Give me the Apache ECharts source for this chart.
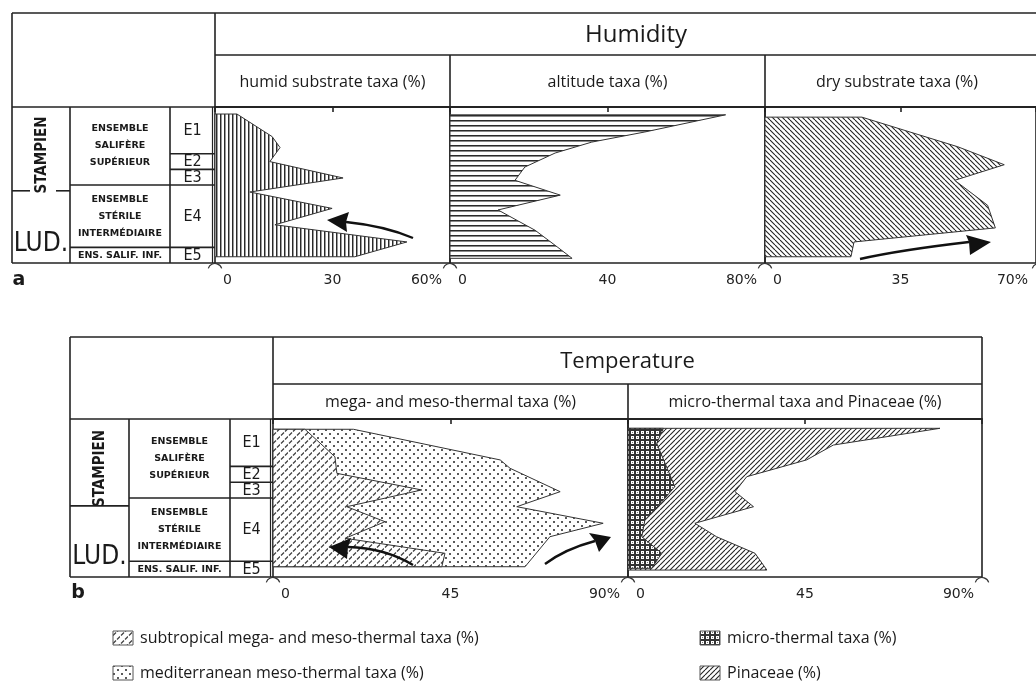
<!DOCTYPE html>
<html><head><meta charset="utf-8">
<script src="https://cdn.jsdelivr.net/npm/echarts@6/dist/echarts.min.js"></script>
<style>html,body{margin:0;padding:0;background:#fff}#c{width:1036px;height:689px}</style>
</head><body><div id="c"></div>
<script>
// ---------- DATA (depth = relative position in the section: 0 = top of E1, 100 = base of E5) ----------
const humidDepth = [4.5, 19, 26, 35, 45.5, 54.5, 65, 75.5, 86.5, 96];
const humidVal   = [5.6, 14.6, 16.6, 14.0, 32.7, 8.9, 29.9, 15.3, 49.0, 35.7];
const altitudeDepth = [5, 16, 22.5, 29.5, 38.5, 47, 56.5, 66, 79, 90, 97];
const altitudeVal   = [70, 49.5, 36, 26.7, 19, 16.5, 28, 12.2, 21.6, 27.4, 31];
const dryDepth = [6.5, 25.5, 37, 47, 63, 77.5, 86.5, 96];
const dryVal   = [25, 49.8, 61.8, 49, 57.5, 59.5, 23, 22.2];
const subtropDepth = [6.5, 23.9, 34.4, 44.9, 55.5, 65, 75.5, 85, 93.5];
const subtropVal   = [8.1, 15.7, 16.2, 37.7, 18.7, 28.4, 18.3, 43.6, 42.8];
const megaMesoDepth = [6.5, 25.9, 31.2, 46, 55.5, 66, 74.5, 93.5];
const megaMesoTotal = [20.4, 57.6, 60.1, 72.8, 61.8, 83.7, 70.2, 63.9];
const microDepth = [5.9, 15.4, 42.8, 51.3, 63.9, 74.5, 85, 94.5];
const microVal   = [9.0, 7.3, 11.9, 9.0, 4.3, 3.5, 8.6, 6.0];
const pinaceaeDepth = [5.9, 16.5, 25.9, 36.5, 46, 55.5, 66, 74.5, 85, 95.6];
const microPinTotal = [79.3, 52.2, 45.4, 30.2, 27.2, 31.9, 17.0, 22.5, 32.3, 35.3];

const humidTicks = [0, 30, 60];
const altitudeTicks = [0, 40, 80];
const dryTicks = [0, 35, 70];
const megaTicks = [0, 45, 90];
const microTicks = [0, 45, 90];

const unitNames = ['E1', 'E2', 'E3', 'E4', 'E5'];
const unitBounds = [0, 30, 40, 50, 90, 100];
const ensembleBounds = [0, 50, 90, 100];
const ensembleNames = [['ENSEMBLE', 'SALIFÈRE', 'SUPÉRIEUR'], ['ENSEMBLE', 'STÉRILE', 'INTERMÉDIAIRE'], ['ENS. SALIF. INF.']];
const stageNames = ['STAMPIEN', 'LUD.'];
const stageBoundary = 55;

const figTitles = ['Humidity', 'Temperature'];
const topPanelTitles = ['humid substrate taxa (%)', 'altitude taxa (%)', 'dry substrate taxa (%)'];
const bottomPanelTitles = ['mega- and meso-thermal taxa (%)', 'micro-thermal taxa and Pinaceae (%)'];
const legendLabels = ['subtropical mega- and meso-thermal taxa (%)', 'mediterranean meso-thermal taxa (%)', 'micro-thermal taxa (%)', 'Pinaceae (%)'];
const figLetters = ['a', 'b'];

// ---------- PATTERNS ----------
function pat(w, h, draw) {
  const c = document.createElement('canvas'); c.width = w; c.height = h;
  const g = c.getContext('2d'); g.fillStyle = '#fff'; g.fillRect(0, 0, w, h); draw(g, w, h);
  return { image: c, repeat: 'repeat' };
}
const P = {
  vert: pat(4, 4, g => { g.fillStyle = '#2a2a2a'; g.fillRect(0, 0, 1, 4); g.fillStyle = '#9a9a9a'; g.fillRect(1, 0, 1, 4); }),
  horiz: pat(4, 5, g => { g.fillStyle = '#2a2a2a'; g.fillRect(0, 0, 4, 1); g.fillStyle = '#8a8a8a'; g.fillRect(0, 1, 4, 1); }),
  back: pat(5, 5, (g, w, h) => { g.strokeStyle = '#222'; g.lineWidth = 1.1; for (const k of [-w, 0, w]) { g.beginPath(); g.moveTo(k, 0); g.lineTo(k + w, h); g.stroke(); } }),
  fwd: pat(5, 5, (g, w, h) => { g.strokeStyle = '#222'; g.lineWidth = 1.1; for (const k of [-w, 0, w]) { g.beginPath(); g.moveTo(k, h); g.lineTo(k + w, 0); g.stroke(); } }),
  dots: pat(8, 8, g => { g.fillStyle = '#5a5a5a'; g.fillRect(1, 1, 2, 2); g.fillRect(5, 5, 2, 2); }),
  dash: pat(8, 8, g => { g.strokeStyle = '#444'; g.lineWidth = 1.3; g.beginPath(); g.moveTo(1, 3.5); g.lineTo(4, 0.5); g.moveTo(5, 7.5); g.lineTo(8, 4.5); g.stroke(); }),
  cross: pat(5, 5, g => { g.fillStyle = '#333'; g.fillRect(0, 0, 5, 5); g.fillStyle = '#fff'; g.fillRect(1, 1, 3, 3); g.fillStyle = '#777'; g.fillRect(2, 2, 1, 1); })
};

// ---------- LAYOUT ----------
const FIG = [
  { left: 12, c1: 70, c2: 170, c3: 215, headTop: 13, titleDiv: 55, top: 107, bottom: 263, cols: [215, 450, 765, 1039], right: 1039, dashedStage: true },
  { left: 70, c1: 129, c2: 230, c3: 273, headTop: 337, titleDiv: 384, top: 419, bottom: 577, cols: [273, 628, 982], right: 982, dashedStage: false }
];
const panels = [
  { fig: 0, col: 0, ticks: humidTicks },
  { fig: 0, col: 1, ticks: altitudeTicks },
  { fig: 0, col: 2, ticks: dryTicks },
  { fig: 1, col: 0, ticks: megaTicks },
  { fig: 1, col: 1, ticks: microTicks }
];

const LINE = '#222';
const COND = "'DejaVu Sans Condensed', 'Liberation Sans Narrow', 'Liberation Sans', sans-serif";
const grids = [], xAxes = [], yAxes = [];
panels.forEach((p, i) => {
  const f = FIG[p.fig];
  grids.push({ left: f.cols[p.col], top: f.top, width: f.cols[p.col + 1] - f.cols[p.col], height: f.bottom - f.top,
    show: true, borderColor: LINE, borderWidth: 1.6, backgroundColor: 'transparent' });
  const max = p.ticks[p.ticks.length - 1];
  const lab = { fontFamily: 'DejaVu Sans', fontSize: 14, color: '#222' };
  xAxes.push({ type: 'value', gridIndex: i, min: 0, max: max, interval: p.ticks[1] - p.ticks[0],
    axisLine: { show: true, lineStyle: { color: LINE, width: 1.6 } },
    axisTick: { show: true, length: 5, lineStyle: { color: LINE, width: 1.6 } },
    splitLine: { show: false },
    axisLabel: { show: true, margin: 10, ...lab, alignMinLabel: 'left', alignMaxLabel: 'right',
      formatter: v => v === 0 ? '{l|0}' : (v === max ? '{r|' + v + '%}' : String(v)),
      rich: { l: { ...lab, padding: [0, 0, 0, 8] }, r: { ...lab, padding: [0, 8, 0, 0] } } } });
  yAxes.push({ type: 'value', gridIndex: i, min: 0, max: 100, inverse: true, show: false });
});

function profile(idx, vals, depths, fill, z) {
  return { type: 'custom', coordinateSystem: 'cartesian2d', xAxisIndex: idx, yAxisIndex: idx, z: z, silent: true,
    data: vals.map((v, i) => [v, depths[i]]),
    renderItem: (params, api) => {
      if (params.dataIndex !== 0) return null;
      const pts = [api.coord([0, depths[0]])];
      vals.forEach((v, i) => pts.push(api.coord([v, depths[i]])));
      pts.push(api.coord([0, depths[depths.length - 1]]));
      return { type: 'polygon', shape: { points: pts }, style: { fill: fill, stroke: '#333', lineWidth: 1 } };
    } };
}
const series = [
  profile(0, humidVal, humidDepth, P.vert, 2),
  profile(1, altitudeVal, altitudeDepth, P.horiz, 2),
  profile(2, dryVal, dryDepth, P.back, 2),
  profile(3, megaMesoTotal, megaMesoDepth, P.dots, 2),
  profile(3, subtropVal, subtropDepth, P.dash, 3),
  profile(4, microPinTotal, pinaceaeDepth, P.fwd, 2),
  profile(4, microVal, microDepth, P.cross, 3)
];

// ---------- GRAPHICS (table, titles, legend, arrows) ----------
const G = [];
const L = (x1, y1, x2, y2, extra) => G.push({ type: 'line', silent: true, z: 20, shape: { x1, y1, x2, y2 }, style: Object.assign({ stroke: LINE, lineWidth: 1.6 }, extra || {}) });
const T = (x, y, text, st, rot) => G.push({ type: 'text', silent: true, z: 21, x, y, rotation: rot || 0,
  style: Object.assign({ text, fill: '#1a1a1a', align: 'center', verticalAlign: 'middle' }, st) });
const HEAD = { fontFamily: 'Open Sans', fontSize: 16 };
const STRAT = { fontFamily: 'DejaVu Sans', fontWeight: 'bold', fontSize: 9.5 };

FIG.forEach((f, k) => {
  const yd = d => f.top + d * (f.bottom - f.top) / 100;
  // frame
  L(f.left, f.headTop, f.right, f.headTop);
  L(f.left, f.headTop, f.left, f.bottom);
  L(f.left, f.bottom, f.c3, f.bottom);
  L(f.left, f.top, f.right, f.top);
  L(f.c3, f.headTop, f.c3, f.top);
  L(f.c3, f.titleDiv, f.right, f.titleDiv);
  L(f.right, f.headTop, f.right, f.top);
  f.cols.slice(1, -1).forEach(x => L(x, f.titleDiv, x, f.top));
  // small junction arches under the depth axes
  f.cols.forEach(x => G.push({ type: 'arc', silent: true, z: 20, shape: { cx: x, cy: f.bottom + 7.5, r: 7, startAngle: Math.PI + 0.3, endAngle: 2 * Math.PI - 0.3 }, style: { stroke: '#333', lineWidth: 1.2, fill: null } }));
  // strat columns
  L(f.c1, f.top, f.c1, f.bottom);
  L(f.c2, f.top, f.c2, f.bottom);
  L(f.c3 - 2.5, f.top, f.c3 - 2.5, f.bottom, { lineWidth: 1.2 });
  unitBounds.slice(1, -1).forEach(d => {
    const isEns = ensembleBounds.indexOf(d) >= 0;
    L(isEns ? f.c1 : f.c2, yd(d), f.c3, yd(d));
  });
  // stage boundary
  const ys = yd(stageBoundary) - (k === 0 ? 2 : 0);
  if (f.dashedStage) {
    L(f.left, ys, f.left + 18, ys); L(f.left + 44, ys, f.c1, ys);
  } else {
    L(f.left, ys, f.c1, ys);
  }
  const cx1 = (f.left + f.c1) / 2;
  T(cx1 + 1, (f.top + ys) / 2 + 6, stageNames[0], { fontFamily: COND, fontWeight: 'bold', fontSize: 15 }, Math.PI / 2);
  T(cx1, yd(89) - 2, stageNames[1], { fontFamily: COND, fontSize: 26 });
  // unit labels
  unitNames.forEach((n, i) => T((f.c2 + f.c3) / 2, yd((unitBounds[i] + unitBounds[i + 1]) / 2) + 0.5, n, { fontFamily: COND, fontSize: 16 }));
  // ensemble labels
  ensembleNames.forEach((lines, i) => {
    const mid = yd((ensembleBounds[i] + ensembleBounds[i + 1]) / 2);
    const step = 17;
    lines.forEach((s, j) => T((f.c1 + f.c2) / 2, mid + (j - (lines.length - 1) / 2) * step, s, STRAT));
  });
  // titles
  T(k === 0 ? 636 : (f.c3 + f.right) / 2, (f.headTop + f.titleDiv) / 2 + 1, figTitles[k], { fontFamily: 'Open Sans', fontSize: k === 0 ? 24 : 22 });
  const titles = k === 0 ? topPanelTitles : bottomPanelTitles;
  titles.forEach((s, i) => T(k === 0 && i === 2 ? 897 : (f.cols[i] + f.cols[i + 1]) / 2, (f.titleDiv + f.top) / 2 + 1, s, HEAD));
  // figure letter
  T(k === 0 ? 19 : 78, f.bottom + (k === 0 ? 17 : 16), figLetters[k], { fontFamily: 'DejaVu Sans', fontWeight: 'bold', fontSize: 19 });
});

// legend
const legendItems = [
  { x: 113, y: 631, fill: P.dash, label: legendLabels[0] },
  { x: 113, y: 666, fill: P.dots, label: legendLabels[1] },
  { x: 700, y: 631, fill: P.cross, label: legendLabels[2] },
  { x: 700, y: 666, fill: P.fwd, label: legendLabels[3] }
];
legendItems.forEach(it => {
  G.push({ type: 'rect', silent: true, z: 21, shape: { x: it.x, y: it.y, width: 20, height: 14 }, style: { fill: it.fill, stroke: '#555', lineWidth: 1 } });
  G.push({ type: 'text', silent: true, z: 21, x: it.x + 27, y: it.y + 7, style: { text: it.label, fill: '#1a1a1a', fontFamily: 'Open Sans', fontSize: 16, align: 'left', verticalAlign: 'middle' } });
});

// arrows
function arrow(tail, ctrl, notch, tip, c1, c2) {
  G.push({ type: 'bezierCurve', silent: true, z: 22, shape: { x1: tail[0], y1: tail[1], cpx1: ctrl[0], cpy1: ctrl[1], x2: notch[0], y2: notch[1] }, style: { stroke: '#111', lineWidth: 2.4, fill: null } });
  G.push({ type: 'polygon', silent: true, z: 22, shape: { points: [tip, c1, notch, c2] }, style: { fill: '#111' } });
}
arrow([413, 238], [385, 226], [346, 222], [327, 220], [349, 212], [347, 232]);
arrow([860, 259], [900, 250], [969, 242], [991, 242], [966, 235], [970, 255]);
arrow([413, 565], [385, 548], [348, 547], [329, 547], [351, 538], [347, 559]);
arrow([545, 564], [565, 549], [595, 541], [611, 537], [589, 533], [599, 552]);

const chart = echarts.init(document.getElementById('c'), null, { renderer: 'canvas' });
chart.setOption({
  backgroundColor: '#fff',
  animation: false,
  grid: grids, xAxis: xAxes, yAxis: yAxes,
  series: series,
  graphic: { elements: G }
});
</script></body></html>
